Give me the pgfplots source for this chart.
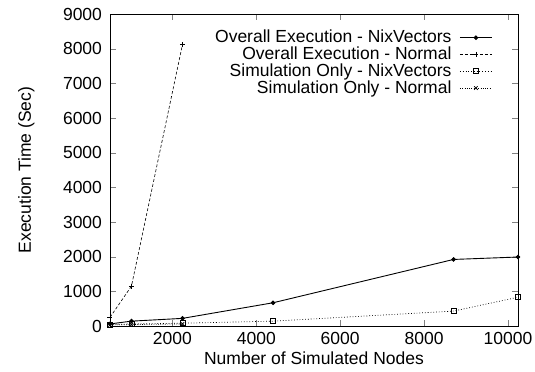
\documentclass[border=0pt]{standalone}
\usepackage{fontspec}
\setmainfont{Liberation Sans}
\usepackage{pgfplots}
\pgfplotsset{compat=1.18}
\begin{document}
\fontsize{17.5bp}{19bp}\selectfont
\begin{tikzpicture}
\path[use as bounding box] (-110bp,-46bp) rectangle (425bp,326bp);
\begin{axis}[
  at={(0,0)}, anchor=south west,
  scale only axis, width=408bp, height=312bp,
  xmin=512, xmax=10240, ymin=0, ymax=9000,
  xtick={2000,4000,6000,8000,10000},
  ytick={0,1000,...,9000},
  tick align=inside, major tick length=6bp,
  /pgf/number format/assume math mode=true,
  /pgf/number format/set thousands separator={},
  scaled ticks=false,
  tick label style={font=\fontsize{17.5bp}{19bp}\selectfont},
  label style={font=\fontsize{17.5bp}{19bp}\selectfont},
  yticklabel style={xshift=-2bp},
  xlabel={Number of Simulated Nodes},
  ylabel={Execution Time (Sec)},
  xlabel style={at={(axis description cs:0.5,-0.124)}, anchor=base},
  ylabel style={at={(axis description cs:-0.205,0.5)}, anchor=center},
  axis line style={line width=0.9pt},
  legend cell align=right,
  legend plot pos=right,
  legend style={draw=none, fill=none, at={(0.945,0.962)}, anchor=north east,
    font=\fontsize{17.5bp}{17.5bp}\selectfont, row sep=-2.5bp, column sep=6bp},
  legend image code/.code={\draw[mark repeat=2,mark phase=2] plot coordinates {(0bp,0bp) (16bp,0bp) (32bp,0bp)};},
]
\addplot[black, line width=0.9pt, mark=*, mark size=1.8bp, mark options={solid}] coordinates {
  (512,60) (1024,140) (2240,220) (4400,670) (8704,1920) (10240,1990)};
\addlegendentry{Overall Execution - NixVectors}
\addplot[black, line width=0.6pt, dash pattern=on 3pt off 2pt, mark=+, mark size=2.5bp, mark options={solid}] coordinates {
  (512,250) (1024,1150) (2240,8120)};
\addlegendentry{Overall Execution - Normal}
\addplot[black, line width=0.7pt, dash pattern=on 0.8pt off 2pt, mark=square, mark size=2.5bp, mark options={solid}] coordinates {
  (512,40) (1024,60) (2240,80) (4400,140) (8704,430) (10240,830)};
\addlegendentry{Simulation Only - NixVectors}
\addplot[black, line width=0.7pt, dash pattern=on 0.8pt off 1.5pt, mark=x, mark size=2.5bp, mark options={solid}] coordinates {
  (512,30) (1024,40) (2240,60)};
\addlegendentry{Simulation Only - Normal}
\end{axis}
\end{tikzpicture}
\end{document}
